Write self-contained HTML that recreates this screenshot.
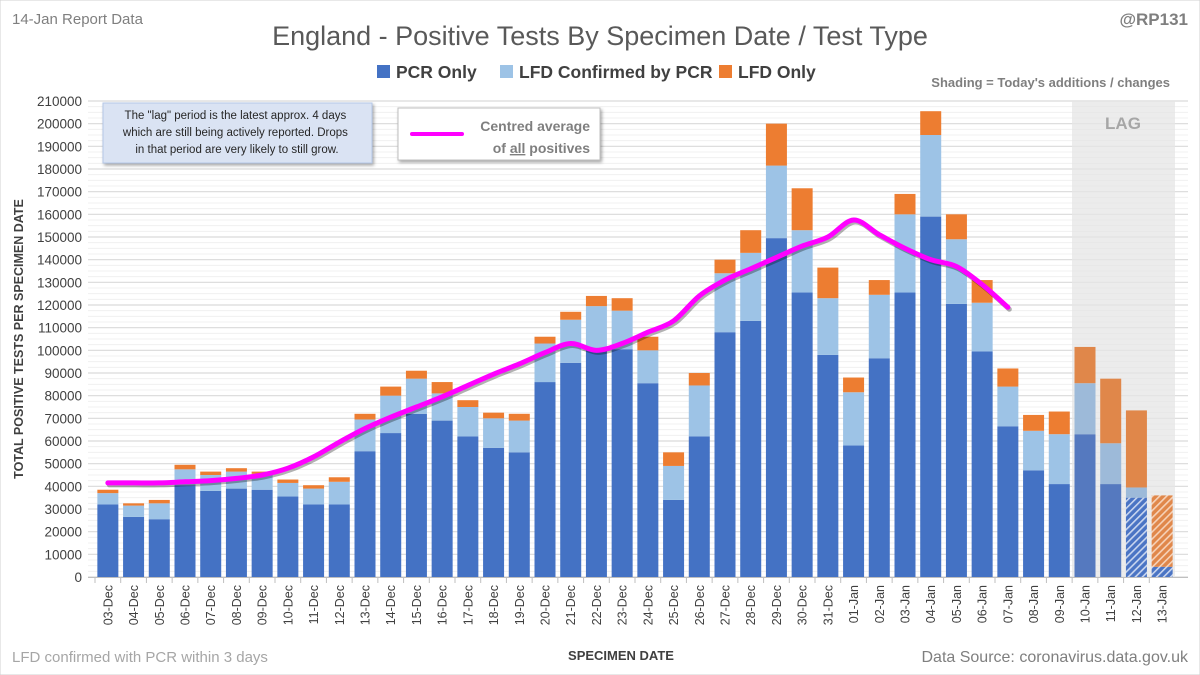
<!DOCTYPE html>
<html><head><meta charset="utf-8">
<style>
body{margin:0;width:1200px;height:675px;background:#fff;overflow:hidden;font-family:"Liberation Sans",sans-serif}
svg{display:block}
</style></head>
<body>
<svg id="chart" width="1200" height="675" xmlns="http://www.w3.org/2000/svg">
<defs>
<pattern id="hb" width="5" height="5" patternUnits="userSpaceOnUse" patternTransform="rotate(45)"><rect width="5" height="5" fill="#4a74c4"/><rect width="1.6" height="5" fill="#c9d6ef"/></pattern>
<pattern id="ho" width="5" height="5" patternUnits="userSpaceOnUse" patternTransform="rotate(45)"><rect width="5" height="5" fill="#e0874a"/><rect width="1.6" height="5" fill="#f6d2b8"/></pattern>
<filter id="sh" x="-5%" y="-20%" width="110%" height="150%"><feDropShadow dx="1.5" dy="2" stdDeviation="1.5" flood-color="#000" flood-opacity="0.35"/></filter>
</defs>
<rect x="0" y="0" width="1200" height="675" fill="#fff" stroke="#d0d0d0"/>
<g id="grid"></g>
<rect x="1072" y="101" width="103" height="476" fill="#e6e6e6" opacity="0.75"/>
<text x="1123" y="129" text-anchor="middle" font-size="17" font-weight="bold" fill="#a6a6a6">LAG</text>
<g id="bars"></g>
<g id="line"></g>
<g id="axes"></g>
<text x="600" y="45" text-anchor="middle" font-size="27" fill="#595959">England - Positive Tests By Specimen Date / Test Type</text>
<text x="12" y="24" font-size="15" fill="#7f7f7f">14-Jan Report Data</text>
<text x="1188" y="25" text-anchor="end" font-size="17" font-weight="bold" fill="#7f7f7f">@RP131</text>
<g>
<rect x="377" y="65" width="13" height="13" fill="#4472c4"/>
<text x="396" y="78" font-size="17.5" font-weight="bold" fill="#404040">PCR Only</text>
<rect x="500" y="65" width="13" height="13" fill="#9dc3e6"/>
<text x="519" y="78" font-size="17.5" font-weight="bold" fill="#404040">LFD Confirmed by PCR</text>
<rect x="719" y="65" width="13" height="13" fill="#ed7d31"/>
<text x="738" y="78" font-size="17.5" font-weight="bold" fill="#404040">LFD Only</text>
</g>
<text x="1170" y="87" text-anchor="end" font-size="13" font-weight="bold" fill="#7f7f7f">Shading = Today's additions / changes</text>
<g>
<rect x="103" y="103" width="269" height="60" fill="#dae3f3" stroke="#b4c7e7" filter="url(#sh)"/>
<text font-size="11.5" fill="#262626" text-anchor="middle">
<tspan x="237" y="119">The "lag" period is the latest approx. 4 days</tspan>
<tspan x="237" y="136">which are still being actively reported. Drops</tspan>
<tspan x="237" y="153">in that period are very likely to still grow.</tspan>
</text>
</g>
<g>
<rect x="398" y="108" width="202" height="52" fill="#fff" stroke="#bfbfbf" filter="url(#sh)"/>
<line x1="412" y1="134" x2="462" y2="134" stroke="#ff00ff" stroke-width="4" stroke-linecap="round"/>
<text x="590" y="131" text-anchor="end" font-size="14" font-weight="bold" fill="#7f7f7f">Centred average</text>
<text x="590" y="153" text-anchor="end" font-size="14" font-weight="bold" fill="#7f7f7f">of <tspan text-decoration="underline">all</tspan> positives</text>
</g>
<text transform="translate(23,339) rotate(-90)" text-anchor="middle" font-size="12.5" font-weight="bold" fill="#404040">TOTAL POSITIVE TESTS PER SPECIMEN DATE</text>
<text x="621" y="660" text-anchor="middle" font-size="13" font-weight="bold" fill="#404040">SPECIMEN DATE</text>
<text x="12" y="662" font-size="15" fill="#a6a6a6">LFD confirmed with PCR within 3 days</text>
<text x="1188" y="662" text-anchor="end" font-size="16" fill="#7f7f7f">Data Source: coronavirus.data.gov.uk</text>
</svg>
<script>
const categories=["03-Dec","04-Dec","05-Dec","06-Dec","07-Dec","08-Dec","09-Dec","10-Dec","11-Dec","12-Dec","13-Dec","14-Dec","15-Dec","16-Dec","17-Dec","18-Dec","19-Dec","20-Dec","21-Dec","22-Dec","23-Dec","24-Dec","25-Dec","26-Dec","27-Dec","28-Dec","29-Dec","30-Dec","31-Dec","01-Jan","02-Jan","03-Jan","04-Jan","05-Jan","06-Jan","07-Jan","08-Jan","09-Jan","10-Jan","11-Jan","12-Jan","13-Jan"];
const pcrOnly=[32000,26500,25500,40500,38000,39000,38500,35500,32000,32000,55500,63500,72000,69000,62000,57000,55000,86000,94500,100000,100500,85500,34000,62000,108000,113000,149500,125500,98000,58000,96500,125500,159000,120500,99500,66500,47000,41000,63000,41000,35000,4500];
const lfdConfirmed=[5000,5000,7000,7000,7000,7500,7000,6000,7000,10000,14000,16500,15500,12000,13000,13000,14000,17000,19000,19500,17000,14500,15000,22500,26000,30000,32000,27500,25000,23500,28000,34500,36000,28500,21500,17500,17500,22000,22500,18000,4500,0];
const lfdOnly=[1500,1000,1500,2000,1500,1500,1000,1500,1500,2000,2500,4000,3500,5000,3000,2500,3000,3000,3500,4500,5500,6000,6000,5500,6000,10000,18500,18500,13500,6500,6500,9000,10500,11000,10000,8000,7000,10000,16000,28500,34000,31500];
const avgLine=[41500,41500,41500,42000,42500,43500,45000,48000,53000,59500,65500,70500,75000,79500,84500,89500,94000,99000,103000,100000,103000,108000,113000,124000,131000,136000,141000,146000,150000,157500,151000,145000,140000,137000,129000,119000];
const yTicks=[0,10000,20000,30000,40000,50000,60000,70000,80000,90000,100000,110000,120000,130000,140000,150000,160000,170000,180000,190000,200000,210000];

const NS="http://www.w3.org/2000/svg";
const X0=95,X1=1175,Y0=577,Y1=101,YMAX=210000;
const band=(X1-X0)/categories.length;
const xC=i=>X0+band*(i+0.5);
const yS=v=>Y0-(v/YMAX)*(Y0-Y1);
function mk(tag,attrs,parent){const e=document.createElementNS(NS,tag);for(const k in attrs)e.setAttribute(k,attrs[k]);parent.appendChild(e);return e;}
const grid=document.getElementById('grid'),bars=document.getElementById('bars'),line=document.getElementById('line'),axes=document.getElementById('axes');
for(let v=0;v<=YMAX;v+=2500){
  const g=mk('line',{x1:88,x2:1188,y1:yS(v),y2:yS(v),stroke:v%10000===0?'#d9d9d9':'#f0f0f0','stroke-width':v%10000===0?1.2:1},grid);
  
  
}
yTicks.forEach(v=>{
  const t=mk('text',{x:82,y:yS(v)+5,'text-anchor':'end','font-size':13.5,fill:'#404040'},axes);
  t.textContent=v;
  
  
});
const ax=mk('line',{x1:88,x2:1188,y1:Y0+0.5,y2:Y0+0.5,stroke:'#bfbfbf'},axes);


const bw=21;
categories.forEach((c,i)=>{
  const lag=i>=38;
  const segs=[[0,pcrOnly[i],lag?(i>=40?'url(#hb)':'#5579bf'):'#4472c4','bar-pcr-only'],
              [pcrOnly[i],pcrOnly[i]+lfdConfirmed[i],lag?'#9dbad9':'#9dc3e6','bar-lfd-confirmed'],
              [pcrOnly[i]+lfdConfirmed[i],pcrOnly[i]+lfdConfirmed[i]+lfdOnly[i],lag?(i>=41?'url(#ho)':'#e0874a'):'#ed7d31','bar-lfd-only']];
  segs.forEach(s=>{
    if(s[1]<=s[0])return;
    const r=mk('rect',{x:xC(i)-bw/2,y:yS(s[1]),width:bw,height:yS(s[0])-yS(s[1]),fill:s[2]},bars);
    
    
  });
  const tk=mk('line',{x1:X0+band*i,x2:X0+band*i,y1:Y0,y2:Y0+6,stroke:'#bfbfbf'},axes);
  
  
  const t=mk('text',{transform:`translate(${xC(i)+4.5},${585}) rotate(-90)`,'text-anchor':'end','font-size':12.5,fill:'#404040'},axes);
  t.textContent=c;
  
  
});
const pts=avgLine.map((v,i)=>[xC(i),yS(v)]);
let d=`M${pts[0][0]},${pts[0][1]}`;
for(let i=0;i<pts.length-1;i++){
  const p0=pts[Math.max(0,i-1)],p1=pts[i],p2=pts[i+1],p3=pts[Math.min(pts.length-1,i+2)];
  d+=` C${p1[0]+(p2[0]-p0[0])/6},${p1[1]+(p2[1]-p0[1])/6} ${p2[0]-(p3[0]-p1[0])/6},${p2[1]-(p3[1]-p1[1])/6} ${p2[0]},${p2[1]}`;
}
const ls=mk('path',{d:d,fill:'none',stroke:'#000','stroke-opacity':0.3,'stroke-width':5,transform:'translate(1.5,2)','stroke-linecap':'round'},line);


const lp=mk('path',{d:d,fill:'none',stroke:'#ff00ff','stroke-width':5,'stroke-linecap':'round','stroke-linejoin':'round'},line);


</script>
</body></html>
